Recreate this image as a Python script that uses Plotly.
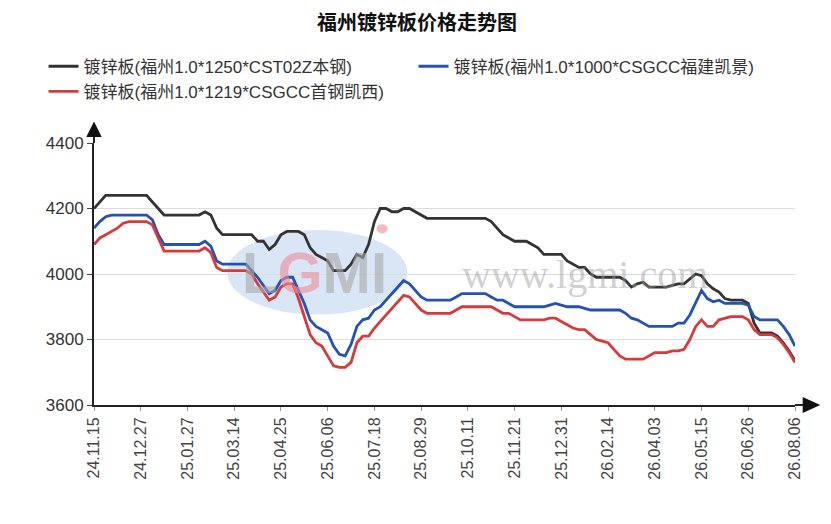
import plotly.graph_objects as go

# tick labels (one every 8 points)
dates = ["24.11.15", "24.12.27", "25.01.27", "25.03.14", "25.04.25", "25.06.06",
         "25.07.18", "25.08.29", "25.10.11", "25.11.21", "25.12.31", "26.02.14",
         "26.04.03", "26.05.15", "26.06.26", "26.08.06"]

names = ["镀锌板(福州1.0*1250*CST02Z本钢)",
         "镀锌板(福州1.0*1000*CSGCC福建凯景)",
         "镀锌板(福州1.0*1219*CSGCC首钢凯西)"]

benxi = [4200, 4220, 4240, 4240, 4240, 4240, 4240, 4240, 4240, 4240,
         4220, 4200, 4180, 4180, 4180, 4180, 4180, 4180, 4180, 4190,
         4180, 4140, 4120, 4120, 4120, 4120, 4120, 4120, 4100, 4100,
         4075, 4090, 4120, 4130, 4130, 4130, 4120, 4080, 4060, 4050,
         4040, 4010, 4010, 4010, 4030, 4060, 4050, 4090, 4160, 4200,
         4200, 4190, 4190, 4200, 4200, 4190, 4180, 4170, 4170, 4170,
         4170, 4170, 4170, 4170, 4170, 4170, 4170, 4170, 4160, 4140,
         4120, 4110, 4100, 4100, 4100, 4090, 4080, 4060, 4060, 4060,
         4060, 4040, 4030, 4020, 4020, 4000, 3990, 3990, 3990, 3990,
         3990, 3980, 3960, 3970, 3975, 3960, 3960, 3960, 3960, 3965,
         3970, 3970, 3985, 4000, 3995, 3970, 3955, 3945, 3925, 3920,
         3920, 3920, 3910, 3850, 3820, 3820, 3820, 3810, 3790, 3765, 3735]

kaijing = [4140, 4160, 4175, 4180, 4180, 4180, 4180, 4180, 4180, 4180,
           4165, 4120, 4090, 4090, 4090, 4090, 4090, 4090, 4090, 4100,
           4085, 4040, 4030, 4030, 4030, 4030, 4030, 4010, 3990, 3965,
           3940, 3950, 3980, 3990, 3990, 3950, 3910, 3860, 3840, 3830,
           3820, 3780, 3755, 3750, 3785, 3840, 3860, 3865, 3890, 3900,
           3920, 3940, 3960, 3980, 3970, 3950, 3930, 3920, 3920, 3920,
           3920, 3920, 3930, 3940, 3940, 3940, 3940, 3940, 3930, 3920,
           3920, 3910, 3900, 3900, 3900, 3900, 3900, 3900, 3905, 3910,
           3905, 3900, 3900, 3900, 3895, 3890, 3890, 3890, 3890, 3890,
           3890, 3880, 3865, 3860, 3850, 3840, 3840, 3840, 3840, 3840,
           3850, 3850, 3875, 3910, 3950, 3925, 3915, 3920, 3910, 3910,
           3910, 3910, 3905, 3870, 3860, 3860, 3860, 3860, 3840, 3815, 3780]

shougang = [4090, 4110, 4120, 4130, 4140, 4155, 4160, 4160, 4160, 4160,
            4150, 4110, 4070, 4070, 4070, 4070, 4070, 4070, 4070, 4080,
            4065, 4020, 4010, 4010, 4010, 4010, 4010, 4000, 3970, 3945,
            3920, 3930, 3960, 3970, 3970, 3925, 3870, 3815, 3790, 3780,
            3750, 3720, 3715, 3715, 3730, 3790, 3810, 3810, 3835, 3855,
            3875, 3895, 3915, 3935, 3930, 3910, 3890, 3880, 3880, 3880,
            3880, 3880, 3890, 3900, 3900, 3900, 3900, 3900, 3900, 3890,
            3880, 3880, 3870, 3860, 3860, 3860, 3860, 3860, 3865, 3865,
            3855, 3845, 3835, 3830, 3830, 3815, 3800, 3795, 3790, 3770,
            3750, 3740, 3740, 3740, 3740, 3750, 3760, 3760, 3760, 3765,
            3765, 3770, 3800, 3840, 3860, 3840, 3840, 3860, 3865, 3870,
            3870, 3870, 3860, 3830, 3815, 3815, 3815, 3805, 3785, 3760, 3730]

colors = ["#333333", "#2451b3", "#d63a3a"]
step = 8
idx = list(range(len(benxi)))

fig = go.Figure()
for name, vals, col in zip(names, [benxi, kaijing, shougang], colors):
    fig.add_trace(go.Scatter(x=idx, y=vals, name=name, mode="lines",
                             line=dict(color=col, width=2.8)))

# watermark: LGMI logo + site name
shapes = [
    dict(type="circle", xref="paper", yref="paper", x0=0.19, x1=0.447, y0=0.345, y1=0.668,
         fillcolor="#cbdef1", opacity=0.75, line=dict(width=0), layer="below"),
    dict(type="circle", xref="paper", yref="paper", x0=0.403, x1=0.419, y0=0.655, y1=0.69,
         fillcolor="#f2a7b0", opacity=0.8, line=dict(width=0), layer="below"),
    # axis arrows
    dict(type="line", xref="paper", yref="paper", x0=0, x1=0, y0=1, y1=1.03,
         line=dict(color="#222", width=2)),
    dict(type="path", xref="paper", yref="paper", path="M -0.011 1.023 L 0 1.082 L 0.011 1.023 Z",
         fillcolor="#111", line=dict(width=0)),
    dict(type="line", xref="paper", yref="paper", x0=1, x1=1.015, y0=0, y1=0,
         line=dict(color="#222", width=2)),
    dict(type="path", xref="paper", yref="paper", path="M 1.011 0.031 L 1.036 0 L 1.011 -0.031 Z",
         fillcolor="#111", line=dict(width=0)),
]

annotations = [
    dict(xref="paper", yref="paper", x=0.315, y=0.505, xanchor="center", yanchor="middle",
         showarrow=False, opacity=0.6,
         text="<b><span style='color:#a9a9a9'>L</span><span style='color:#f08c98'>G</span>"
              "<span style='color:#a9a9a9'>MI</span></b>",
         font=dict(family="Liberation Sans Narrow, Liberation Sans", size=58)),
    dict(xref="paper", yref="paper", x=0.70, y=0.50, xanchor="center", yanchor="middle",
         showarrow=False, opacity=0.45,
         text="www.lgmi.com", font=dict(family="Liberation Serif", size=40, color="#9a9a9a")),
]

fig.update_layout(
    width=823, height=516, autosize=False,
    margin=dict(l=86, r=36, t=135, b=119),
    paper_bgcolor="white", plot_bgcolor="white",
    font=dict(family="Liberation Sans, Noto Sans CJK SC, sans-serif", color="#333"),
    title=dict(text="<b>福州镀锌板价格走势图</b>", x=0.497, xref="container", xanchor="center",
               y=0.970, yanchor="middle",
               font=dict(family="Noto Sans CJK SC", size=20, color="#111")),
    legend=dict(orientation="h", x=-0.072, xanchor="left", y=1.36, yanchor="top",
                entrywidth=325, entrywidthmode="pixels", font=dict(size=17, color="#333"),
                bgcolor="rgba(0,0,0,0)", tracegroupgap=0),
    shapes=shapes, annotations=annotations,
    showlegend=True,
)
fig.update_xaxes(range=[0, len(benxi) - 1], tickmode="array",
                 tickvals=list(range(0, len(benxi), step)), ticktext=dates,
                 tickangle=-90, ticks="outside", ticklen=4, tickcolor="#999",
                 showline=True, linecolor="#222", linewidth=2, showgrid=False, zeroline=False,
                 tickfont=dict(size=16, color="#444"))
fig.update_yaxes(range=[3600, 4400], dtick=200, ticks="outside", ticklen=5, tickcolor="#444",
                 showline=True, linecolor="#222", linewidth=2, gridcolor="#dcdcdc",
                 zeroline=False, tickfont=dict(size=17, color="#333"))

fig.write_html("out.html")
